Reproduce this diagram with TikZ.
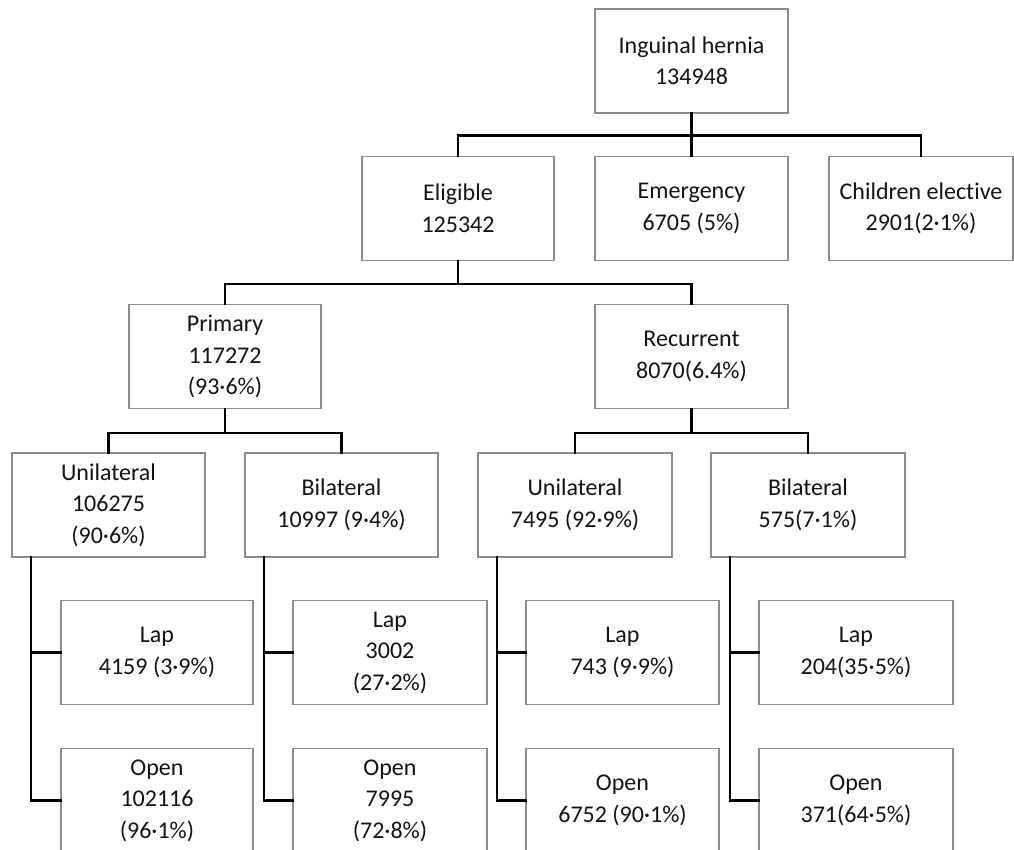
\documentclass[tikz,border=0pt]{standalone}
\usepackage{fontspec}
\setmainfont{Carlito}[Ligatures={NoCommon}]
\definecolor{boxline}{gray}{0.55}
\definecolor{txt}{gray}{0.08}
\tikzset{
  box/.style={draw=boxline, line width=1.1pt, rectangle, minimum height=104pt,
    inner sep=0pt, align=center, text=txt,
    font=\fontsize{24}{31.5}\selectfont},
  conn/.style={draw=black, line width=2.2pt, line cap=rect}
}
\begin{document}
\begin{tikzpicture}[x=1pt,y=-1pt]
\useasboundingbox (0,0) rectangle (1014,850);
\clip (0,0) rectangle (1014,850);
\fill[white] (0,0) rectangle (1014,850);
% level 0
\node[box, minimum width=193pt] (root) at (691.5,61) {Inguinal hernia\\134948};
% level 1
\node[box, minimum width=192pt] (elig) at (458,208.5) {Eligible\\125342};
\node[box, minimum width=193pt] (emerg) at (691.5,208.5) {Emergency\\6705 (5\%)};
\node[box, minimum width=184pt] (child) at (921,208.5) {Children elective\\2901(2·1\%)};
% level 2
\node[box, minimum width=192pt] (prim) at (225,356.5) {Primary\\117272\\(93·6\%)};
\node[box, minimum width=193pt] (rec) at (691.5,356.5) {Recurrent\\8070(6.4\%)};
% level 3
\node[box, minimum width=193pt] (uni1) at (108.5,505) {Unilateral\\106275\\(90·6\%)};
\node[box, minimum width=193pt] (bi1) at (341.5,505) {Bilateral\\10997 (9·4\%)};
\node[box, minimum width=194pt] (uni2) at (575,505) {Unilateral\\7495 (92·9\%)};
\node[box, minimum width=194pt] (bi2) at (808,505) {Bilateral\\575(7·1\%)};
% level 4 - Lap
\node[box, minimum width=192pt] (lap1) at (157,652.5) {Lap\\4159 (3·9\%)};
\node[box, minimum width=194pt] (lap2) at (390,652.5) {Lap\\3002\\(27·2\%)};
\node[box, minimum width=193pt] (lap3) at (622.5,652.5) {Lap\\743 (9·9\%)};
\node[box, minimum width=194pt] (lap4) at (856,652.5) {Lap\\204(35·5\%)};
% level 4 - Open
\node[box, minimum width=192pt] (open1) at (157,800.5) {Open\\102116\\(96·1\%)};
\node[box, minimum width=194pt] (open2) at (390,800.5) {Open\\7995\\(72·8\%)};
\node[box, minimum width=193pt] (open3) at (622.5,800.5) {Open\\6752 (90·1\%)};
\node[box, minimum width=194pt] (open4) at (856,800.5) {Open\\371(64·5\%)};
% connectors
\draw[conn] (root.south) -- ++(0,22) -| (elig.north);
\draw[conn] (root.south) -- ++(0,22) -| (emerg.north);
\draw[conn] (root.south) -- ++(0,22) -| (child.north);
\draw[conn] (elig.south) -- ++(0,23) -| (prim.north);
\draw[conn] (elig.south) -- ++(0,23) -| (rec.north);
\draw[conn] (prim.south) -- ++(0,24) -| (uni1.north);
\draw[conn] (prim.south) -- ++(0,24) -| (bi1.north);
\draw[conn] (rec.south) -- ++(0,24) -| (uni2.north);
\draw[conn] (rec.south) -- ++(0,24) -| (bi2.north);
\foreach \p/\l/\o in {uni1/lap1/open1, bi1/lap2/open2, uni2/lap3/open3, bi2/lap4/open4}{
  \coordinate (\p-v) at ([xshift=19.5pt]\p.south west);
  \draw[conn] (\p-v) |- (\o.west);
  \draw[conn] (\p-v |- \l.west) -- (\l.west);
}
\end{tikzpicture}
\end{document}
